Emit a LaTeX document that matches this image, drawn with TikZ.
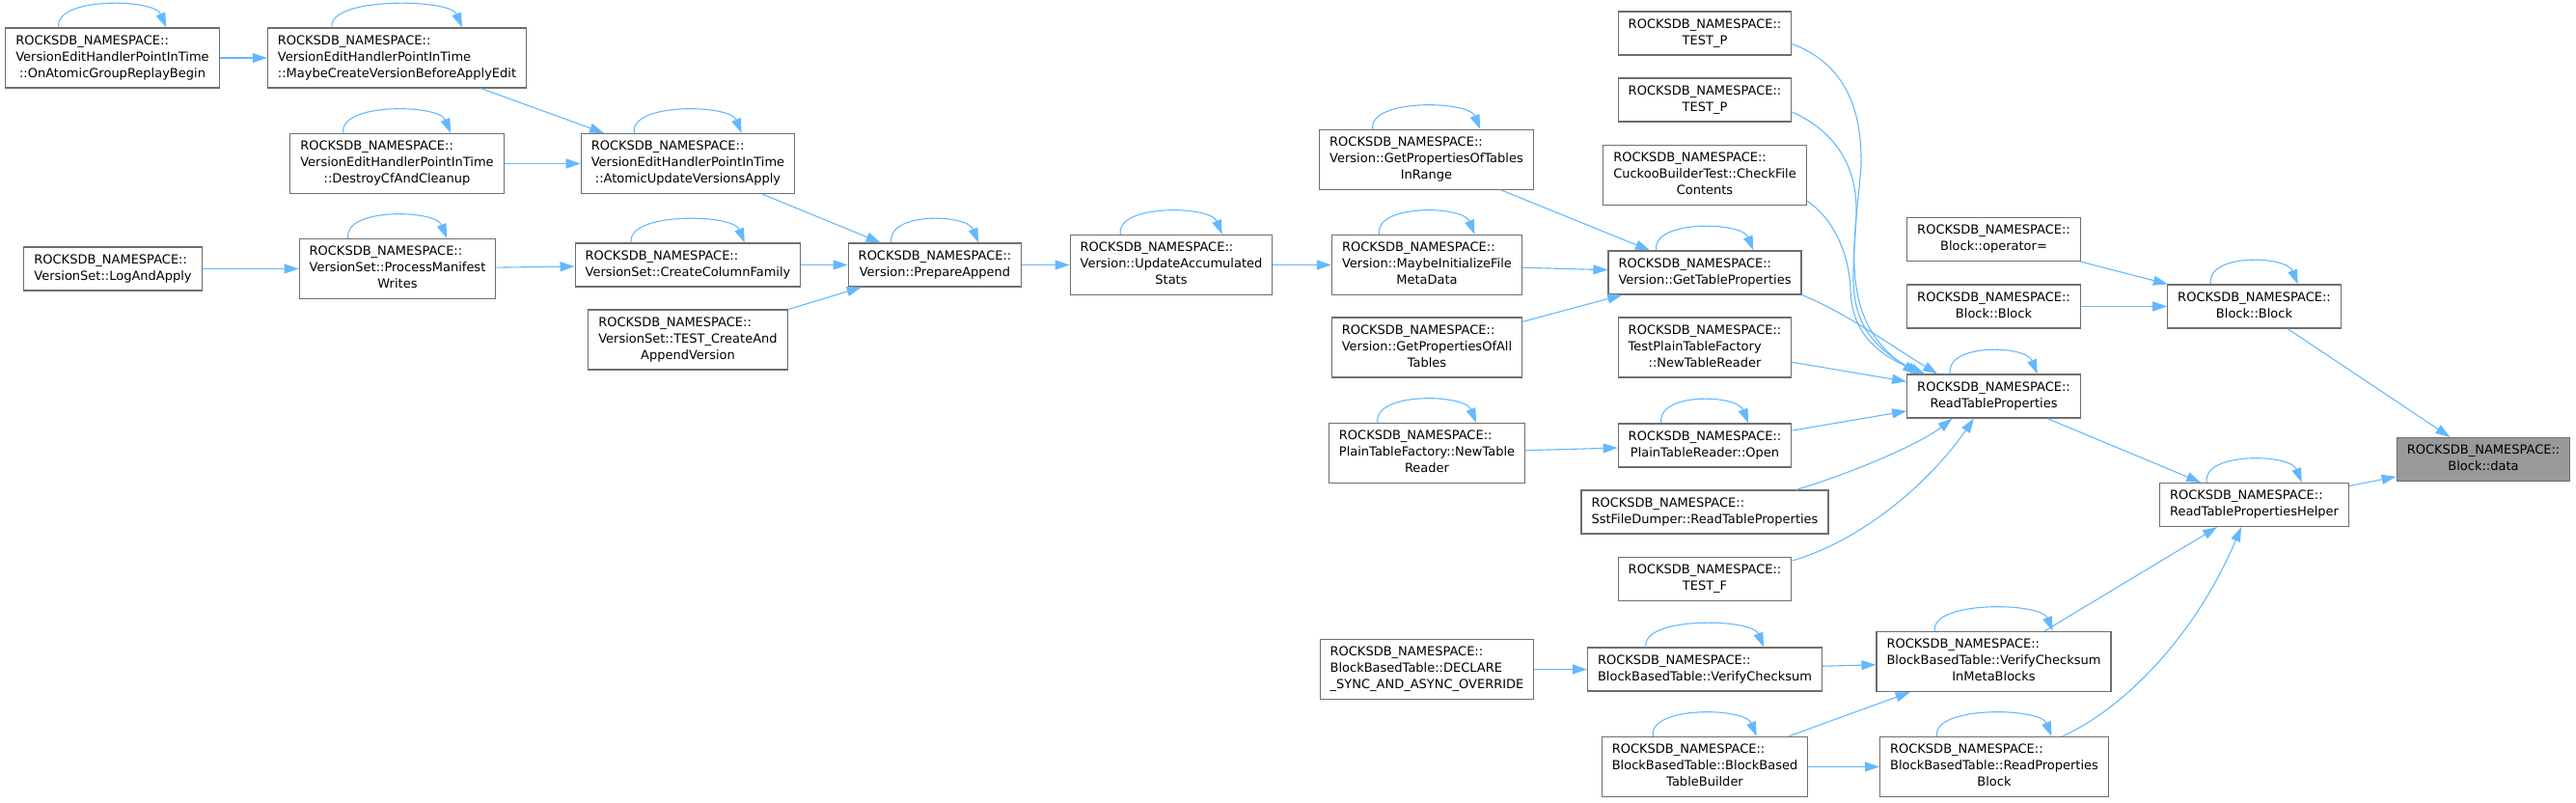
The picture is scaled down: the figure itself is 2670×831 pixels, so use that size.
\documentclass[tikz,border=0pt]{standalone}
\usepackage{fontspec}
\setmainfont{DejaVu Sans}
\usetikzlibrary{arrows.meta,calc}

\newcommand{\fnlabel}[2]{\begin{tabular}{@{}l@{}}#1\\\multicolumn{1}{@{}c@{}}{#2}\end{tabular}}
\newcommand{\selfcall}[1]{\draw[call] ($(#1.north)!0.5!(#1.north west)$) .. controls +(-5,-32) and +(-12,-30) .. ($(#1.north)!0.5!(#1.north east)$);}

\begin{document}
\begin{tikzpicture}[x=1pt,y=-1pt,
    fn/.style={draw=myborder, line width=1.2pt, fill=white, inner xsep=10.5pt, inner ysep=5.5pt,
        font=\fontsize{13}{17}\selectfont},
    fncur/.style={fn, fill=mycurrent},
    call/.style={draw=myedge, line width=1.1pt, -{Triangle[length=15pt,width=10pt]}}]
    \definecolor{myborder}{RGB}{110,110,110}
    \definecolor{myedge}{RGB}{99,184,255}
    \definecolor{mycurrent}{RGB}{153,153,153}

    \useasboundingbox (0,0) rectangle (2670,831);

    \node[fn] (onatomic) at (116.5,60) {\fnlabel{ROCKSDB\_NAMESPACE::\\VersionEditHandlerPointInTime}{::OnAtomicGroupReplayBegin}};
    \node[fn] (maybecreate) at (411.5,60) {\fnlabel{ROCKSDB\_NAMESPACE::\\VersionEditHandlerPointInTime}{::MaybeCreateVersionBeforeApplyEdit}};
    \node[fn] (destroycf) at (411.5,169.5) {\fnlabel{ROCKSDB\_NAMESPACE::\\VersionEditHandlerPointInTime}{::DestroyCfAndCleanup}};
    \node[fn] (logapply) at (117,278.5) {\fnlabel{ROCKSDB\_NAMESPACE::}{VersionSet::LogAndApply}};
    \node[fn] (manifest) at (412,278.5) {\fnlabel{ROCKSDB\_NAMESPACE::\\VersionSet::ProcessManifest}{Writes}};
    \node[fn] (atomicupd) at (713,169.5) {\fnlabel{ROCKSDB\_NAMESPACE::\\VersionEditHandlerPointInTime}{::AtomicUpdateVersionsApply}};
    \node[fn] (createcf) at (713,274.5) {\fnlabel{ROCKSDB\_NAMESPACE::}{VersionSet::CreateColumnFamily}};
    \node[fn] (testcreate) at (713,352) {\fnlabel{ROCKSDB\_NAMESPACE::\\VersionSet::TEST\_CreateAnd}{AppendVersion}};
    \node[fn] (prepare) at (969,274.5) {\fnlabel{ROCKSDB\_NAMESPACE::}{Version::PrepareAppend}};
    \node[fn] (updstats) at (1214,274.5) {\fnlabel{ROCKSDB\_NAMESPACE::\\Version::UpdateAccumulated}{Stats}};
    \node[fn] (propsrange) at (1478.5,165.5) {\fnlabel{ROCKSDB\_NAMESPACE::\\Version::GetPropertiesOfTables}{InRange}};
    \node[fn] (maybeinit) at (1479,274.5) {\fnlabel{ROCKSDB\_NAMESPACE::\\Version::MaybeInitializeFile}{MetaData}};
    \node[fn] (propsall) at (1479,360) {\fnlabel{ROCKSDB\_NAMESPACE::\\Version::GetPropertiesOfAll}{Tables}};
    \node[fn] (ptfactory) at (1479,469.5) {\fnlabel{ROCKSDB\_NAMESPACE::\\PlainTableFactory::NewTable}{Reader}};
    \node[fn] (declare) at (1479,693.5) {\fnlabel{ROCKSDB\_NAMESPACE::\\BlockBasedTable::DECLARE}{\_SYNC\_AND\_ASYNC\_OVERRIDE}};
    \node[fn] (testpa) at (1767,34.5) {\fnlabel{ROCKSDB\_NAMESPACE::}{TEST\_P}};
    \node[fn] (testpb) at (1767,103.5) {\fnlabel{ROCKSDB\_NAMESPACE::}{TEST\_P}};
    \node[fn] (cuckoo) at (1767,181.5) {\fnlabel{ROCKSDB\_NAMESPACE::\\CuckooBuilderTest::CheckFile}{Contents}};
    \node[fn] (gettp) at (1767,282.5) {\fnlabel{ROCKSDB\_NAMESPACE::}{Version::GetTableProperties}};
    \node[fn] (tptfactory) at (1767,360) {\fnlabel{ROCKSDB\_NAMESPACE::\\TestPlainTableFactory}{::NewTableReader}};
    \node[fn] (ptopen) at (1767,461.5) {\fnlabel{ROCKSDB\_NAMESPACE::}{PlainTableReader::Open}};
    \node[fn] (sstdump) at (1767,530.5) {\fnlabel{ROCKSDB\_NAMESPACE::}{SstFileDumper::ReadTableProperties}};
    \node[fn] (testf) at (1767,600) {\fnlabel{ROCKSDB\_NAMESPACE::}{TEST\_F}};
    \node[fn] (verify) at (1767,693.5) {\fnlabel{ROCKSDB\_NAMESPACE::}{BlockBasedTable::VerifyChecksum}};
    \node[fn] (bbtbuilder) at (1767,794.5) {\fnlabel{ROCKSDB\_NAMESPACE::\\BlockBasedTable::BlockBased}{TableBuilder}};
    \node[fn] (opassign) at (2066.5,248) {\fnlabel{ROCKSDB\_NAMESPACE::}{Block::operator=}};
    \node[fn] (blockctor) at (2066.5,317.5) {\fnlabel{ROCKSDB\_NAMESPACE::}{Block::Block}};
    \node[fn] (readtp) at (2066.5,410.5) {\fnlabel{ROCKSDB\_NAMESPACE::}{ReadTableProperties}};
    \node[fn] (verifymeta) at (2066.5,685.5) {\fnlabel{ROCKSDB\_NAMESPACE::\\BlockBasedTable::VerifyChecksum}{InMetaBlocks}};
    \node[fn] (readpb) at (2067,794.5) {\fnlabel{ROCKSDB\_NAMESPACE::\\BlockBasedTable::ReadProperties}{Block}};
    \node[fn] (block) at (2336.5,317.5) {\fnlabel{ROCKSDB\_NAMESPACE::}{Block::Block}};
    \node[fn] (helper) at (2336.5,523) {\fnlabel{ROCKSDB\_NAMESPACE::}{ReadTablePropertiesHelper}};
    \node[fncur] (data) at (2574,476) {\fnlabel{ROCKSDB\_NAMESPACE::}{Block::data}};

    \foreach \nd in {onatomic,maybecreate,destroycf,manifest,atomicupd,createcf,prepare,updstats,propsrange,maybeinit,gettp,readtp,ptfactory,ptopen,verify,bbtbuilder,verifymeta,readpb,block,helper}
        \selfcall{\nd};

    \draw[call] (onatomic) -- (maybecreate);
    \draw[call] (maybecreate) -- (atomicupd);
    \draw[call] (destroycf) -- (atomicupd);
    \draw[call] (logapply) -- (manifest);
    \draw[call] (manifest) -- (createcf);
    \draw[call] (atomicupd) -- (prepare);
    \draw[call] (createcf) -- (prepare);
    \draw[call] (testcreate) -- (prepare);
    \draw[call] (prepare) -- (updstats);
    \draw[call] (updstats) -- (maybeinit);
    \draw[call] (propsrange) -- (gettp);
    \draw[call] (maybeinit) -- (gettp);
    \draw[call] (propsall) -- (gettp);
    \draw[call] (ptfactory) -- (ptopen);
    \draw[call] (declare) -- (verify);
    \draw[call] (gettp.south east) .. controls (1915,325) and (1955,355) .. ([xshift=32pt]readtp.north west);
    \draw[call] ([yshift=-11pt]testpa.east) .. controls (1910,65) and (1930,110) .. (1929,170)
        .. controls (1925,240) and (1900,330) .. ([xshift=11pt]readtp.north west);
    \draw[call] ([yshift=-12.5pt]testpb.east) .. controls (1900,135) and (1925,170) .. (1924,220)
        .. controls (1922,290) and (1905,340) .. ([xshift=15pt]readtp.north west);
    \draw[call] ([yshift=-26.5pt]cuckoo.east) .. controls (1905,230) and (1917,270) .. (1918,300)
        .. controls (1919,340) and (1940,365) .. ([xshift=19pt]readtp.north west);
    \draw[call] (tptfactory) -- (readtp);
    \draw[call] (ptopen) -- (readtp);
    \draw[call] ([xshift=94.7pt]sstdump.north) .. controls (1920,490) and (1990,460) .. ([xshift=-43pt]readtp.south);
    \draw[call] ([yshift=19pt]testf.east) .. controls (1930,560) and (2000,500) .. ([xshift=-20.5pt]readtp.south);
    \draw[call] (verify) -- (verifymeta);
    \draw[call] (bbtbuilder) -- (verifymeta);
    \draw[call] (bbtbuilder) -- (readpb);
    \draw[call] (readtp) -- (helper);
    \draw[call] (verifymeta) -- (helper);
    \draw[call] ([xshift=70.5pt]readpb.north) .. controls (2200,735) and (2275,660) .. ([xshift=-13.5pt]helper.south);
    \draw[call] (opassign) -- (block);
    \draw[call] (blockctor) -- (block);
    \draw[call] (block) -- (data);
    \draw[call] (helper) -- (data);
\end{tikzpicture}
\end{document}
